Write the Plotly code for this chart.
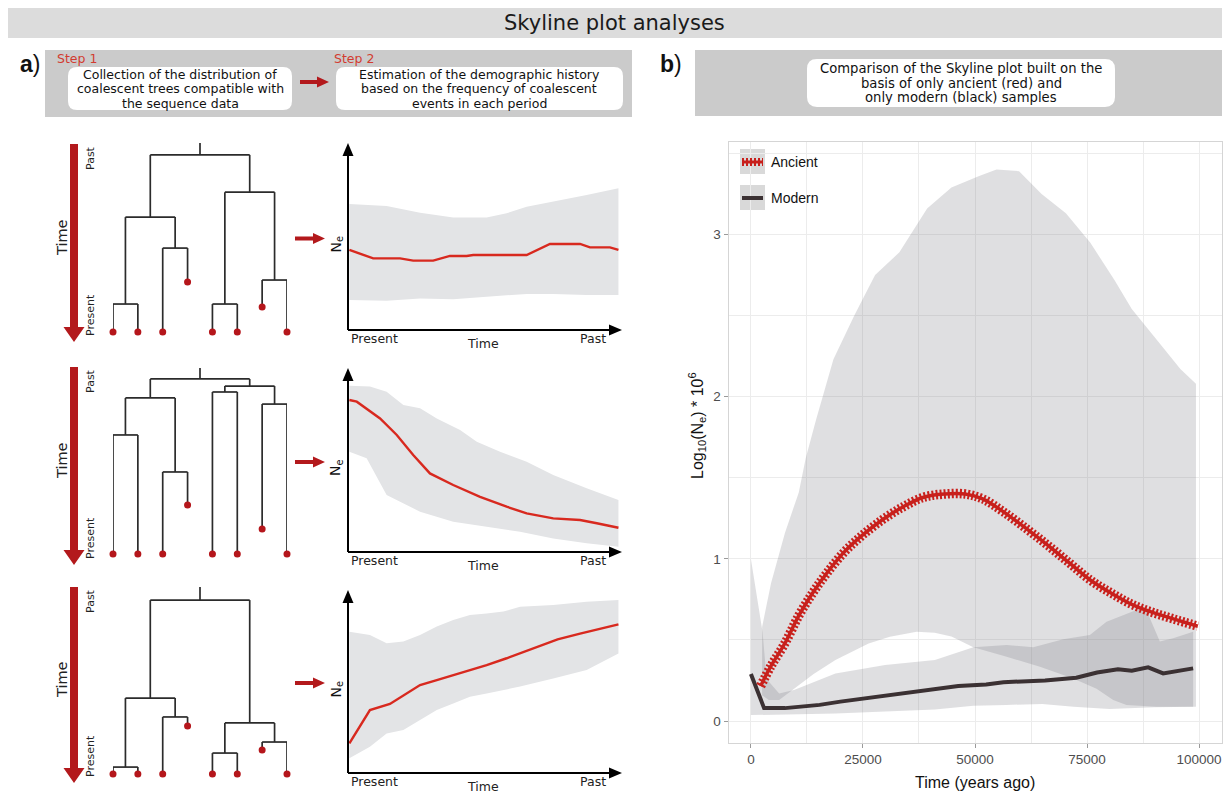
import plotly.graph_objects as go

W, H = 1227, 794

def fx(p):
    return p / W

def fy(p):
    return 1 - p / H

# ======================= DATA =======================
# ---- Panel b : skyline comparison ----
anc_x = [2170, 4490, 7590, 10680, 13780, 16870, 20740, 24610, 29260, 33900, 38540, 43190,
         47830, 51700, 56350, 61760, 66410, 71050, 75700, 80340, 84980, 89630, 94270, 99690]
anc_y = [0.216, 0.34, 0.48, 0.65, 0.79, 0.91, 1.04, 1.14, 1.24, 1.32, 1.38, 1.40,
         1.40, 1.37, 1.29, 1.18, 1.08, 0.975, 0.87, 0.79, 0.72, 0.67, 0.63, 0.585]

mod_x = [0, 2940, 7590, 15330, 19970, 25390, 30030, 35450, 40870, 46280, 52480, 56350,
         65630, 69500, 72600, 77240, 81890, 84980, 88630, 91980, 94950, 98670]
mod_y = [0.29, 0.08, 0.08, 0.10, 0.12, 0.14, 0.16, 0.18, 0.20, 0.216, 0.226, 0.24,
         0.25, 0.26, 0.267, 0.30, 0.32, 0.31, 0.331, 0.294, 0.309, 0.325]

anc_up_x = [2500, 4490, 7590, 10680, 12230, 14550, 18420, 23070, 27710, 33130, 39320, 44740,
            50930, 54800, 59830, 64860, 70280, 75700, 81110, 84980, 91180, 95820, 99300]
anc_up_y = [0.58, 0.85, 1.16, 1.41, 1.62, 1.86, 2.23, 2.50, 2.75, 2.89, 3.16, 3.29,
            3.36, 3.40, 3.39, 3.25, 3.13, 2.95, 2.72, 2.54, 2.33, 2.17, 2.08]
anc_lo_x = [2500, 4000, 6300, 9615, 14000, 18860, 26260, 31000, 36980, 41000, 44750, 49630,
            57060, 64490, 71920, 77120, 80840, 83800, 90490, 99300]
anc_lo_y = [0.16, 0.13, 0.13, 0.20, 0.29, 0.377, 0.479, 0.52, 0.551, 0.545, 0.521, 0.455,
            0.397, 0.335, 0.263, 0.20, 0.13, 0.099, 0.088, 0.088]

mod_up_x = [0, 1500, 2600, 3500, 6300, 9615, 18860, 29960, 41050, 49630, 57060, 63000,
            69690, 75630, 79350, 86030, 88000, 91240, 94210, 98670]
mod_up_y = [1.0, 0.75, 0.55, 0.26, 0.17, 0.191, 0.294, 0.346, 0.377, 0.455, 0.469, 0.455,
            0.504, 0.531, 0.613, 0.685, 0.70, 0.49, 0.51, 0.551]
mod_lo_x = [0, 18860, 41050, 49630, 57000, 65000, 72000, 80000, 90000, 98670]
mod_lo_y = [0.037, 0.047, 0.072, 0.095, 0.10, 0.105, 0.088, 0.074, 0.085, 0.088]

x_tick_vals = [0, 25000, 50000, 75000, 100000]
x_tick_text = ["0", "25000", "50000", "75000", "100000"]
y_tick_vals = [0, 1, 2, 3]
y_tick_text = ["0", "1", "2", "3"]

# ---- Panel a : mini skyline plots (arbitrary units 0-100) ----
mp1_band_x = [0.5, 14.1, 26.3, 38.4, 50.6, 57.9, 65.2, 74.9, 87.1, 98.7]
mp1_up = [67.4, 66.3, 62.7, 60.2, 60.2, 62.4, 65.9, 68.6, 72.2, 75.8]
mp1_lo = [16.0, 15.7, 16.9, 16.4, 17.8, 18.7, 19.3, 19.3, 18.7, 18.7]
mp1_x = [0.5, 9.2, 19.0, 23.8, 31.1, 37.2, 43.3, 45.7, 65.2, 73.7, 84.7, 88.3, 95.6, 98.7]
mp1_y = [42.8, 38.3, 38.3, 37.1, 37.1, 39.6, 39.6, 40.1, 40.1, 46.0, 46.0, 44.2, 44.2, 42.8]

mp2_up_x = [0.5, 8.0, 14.1, 20.2, 26.3, 32.4, 40.9, 47.0, 55.5, 65.2, 74.9, 87.1, 98.7]
mp2_up = [90.4, 89.9, 87.1, 79.9, 78.1, 72.6, 66.3, 59.9, 54.5, 49.1, 41.8, 34.6, 28.3]
mp2_lo_x = [0.5, 6.8, 14.1, 20.2, 26.3, 38.4, 50.6, 62.8, 74.9, 87.1, 98.7]
mp2_lo = [54.5, 50.9, 31.0, 26.4, 21.9, 16.5, 13.7, 11.0, 7.4, 4.7, 2.9]
mp2_x = [0.5, 3.2, 11.7, 17.8, 23.8, 29.9, 38.4, 48.2, 57.9, 65.2, 74.9, 84.7, 90.8, 98.7]
mp2_y = [82.6, 81.7, 72.6, 63.6, 52.7, 42.7, 36.4, 30.0, 24.6, 21.0, 18.3, 17.4, 15.6, 13.2]

mp3_up_x = [0.5, 8.0, 14.1, 20.2, 26.3, 32.4, 38.4, 44.5, 50.6, 56.7, 62.8, 74.9, 87.1, 98.7]
mp3_up = [77.2, 75.4, 70.9, 71.8, 75.4, 80.0, 83.6, 86.3, 87.2, 88.2, 90.9, 91.8, 93.6, 94.5]
mp3_lo_x = [0.5, 8.0, 14.1, 20.2, 26.3, 32.4, 38.4, 44.5, 50.6, 62.8, 74.9, 87.1, 98.7]
mp3_lo = [8.0, 14.4, 21.6, 23.5, 28.9, 34.4, 38.0, 41.7, 43.5, 47.2, 51.7, 56.3, 65.3]
mp3_x = [0.5, 8.0, 15.3, 26.3, 32.4, 40.9, 50.6, 57.9, 67.6, 76.5, 84.7, 98.7]
mp3_y = [16.2, 34.4, 37.7, 48.1, 50.8, 54.5, 59.0, 62.7, 68.1, 73.0, 76.2, 81.2]

# ---- Panel a : coalescent trees (time 0 = present, 100 = top of root stem) ----
tree1_tips = [0, 0, 0, 26.5, 0, 0, 13.2, 0]
tree1_merges = [(0, 1, 14.8), (2, 3, 44.4), (8, 9, 60.8), (4, 5, 14.8), (6, 7, 27.5), (11, 12, 74.0), (10, 13, 93.7)]
tree2_tips = [0, 0, 0, 26.3, 0, 0, 13.4, 0]
tree2_merges = [(0, 1, 64.0), (2, 3, 44.1), (8, 9, 83.9), (4, 5, 87.1), (6, 7, 80.6), (11, 12, 90.3), (10, 13, 94.1)]
tree3_tips = [0, 0, 0, 25.7, 0, 0, 12.8, 0]
tree3_merges = [(0, 1, 3.7), (2, 3, 30.5), (8, 9, 40.6), (4, 5, 11.2), (6, 7, 17.1), (11, 12, 27.3), (10, 13, 93.0)]
stem_top = 100

# ---- header texts ----
box1_lines = ["Collection of the distribution of", "coalescent trees compatible with", "the sequence data"]
box2_lines = ["Estimation of the demographic history", "based on the frequency of coalescent", "events in each period"]
box3_lines = ["Comparison of the Skyline plot built on the", "basis of only ancient (red) and", "only modern (black) samples"]

# ======================= STYLE =======================
DV = "DejaVu Sans"
LIB = "Liberation Sans"
RED_ARROW = "#b3191c"
RED_STEP = "#d23b30"
RED_DOT = "#b5161b"
RED_MINI = "#d8291f"
RED_B = "#c8201c"
DARK_B = "#3b3133"
RIBBON = "rgba(118,118,124,0.23)"
MINI_BAND = "#e3e4e6"

fig = go.Figure()
shapes = []
annotations = []


def ann(text, x, y, size, color="#111", family=DV, angle=0, xanchor="center", yanchor="middle", **kw):
    annotations.append(dict(text=text, x=fx(x), y=fy(y), xref="paper", yref="paper", showarrow=False,
                            font=dict(size=size, color=color, family=family), textangle=angle,
                            xanchor=xanchor, yanchor=yanchor, **kw))


def rect(x0, y0, x1, y1, color):
    shapes.append(dict(type="rect", xref="paper", yref="paper", x0=fx(x0), x1=fx(x1), y0=fy(y1), y1=fy(y0),
                       fillcolor=color, line=dict(width=0), layer="below"))


def poly(points, color, layer="above"):
    d = "M " + " L ".join(f"{fx(a):.5f},{fy(b):.5f}" for a, b in points) + " Z"
    shapes.append(dict(type="path", xref="paper", yref="paper", path=d, fillcolor=color,
                       line=dict(width=0), layer=layer))


def seg(x0, y0, x1, y1, color, width, dash=None):
    line = dict(color=color, width=width)
    if dash:
        line["dash"] = dash
    shapes.append(dict(type="line", xref="paper", yref="paper", x0=fx(x0), x1=fx(x1), y0=fy(y0), y1=fy(y1),
                       line=line))


def rrect(x0, y0, x1, y1, r, color):
    P = lambda a, b: f"{fx(a):.5f},{fy(b):.5f}"
    d = (f"M {P(x0 + r, y0)} L {P(x1 - r, y0)} Q {P(x1, y0)} {P(x1, y0 + r)} "
         f"L {P(x1, y1 - r)} Q {P(x1, y1)} {P(x1 - r, y1)} L {P(x0 + r, y1)} "
         f"Q {P(x0, y1)} {P(x0, y1 - r)} L {P(x0, y0 + r)} Q {P(x0, y0)} {P(x0 + r, y0)} Z")
    shapes.append(dict(type="path", xref="paper", yref="paper", path=d, fillcolor=color,
                       line=dict(width=0), layer="below"))


def harrow(x0, x1, y, shaft=4, head_w=10, head_len=11, color=RED_ARROW):
    hx = x1 - head_len
    poly([(x0, y - shaft / 2), (hx, y - shaft / 2), (hx, y - head_w / 2), (x1, y),
          (hx, y + head_w / 2), (hx, y + shaft / 2), (x0, y + shaft / 2)], color)


def varrow(x, y0, y1, shaft=8, head_w=21, head_len=15, color=RED_ARROW):
    hy = y1 - head_len
    poly([(x - shaft / 2, y0), (x + shaft / 2, y0), (x + shaft / 2, hy), (x + head_w / 2, hy),
          (x, y1), (x - head_w / 2, hy), (x - shaft / 2, hy)], color)


# ======================= HEADERS =======================
rect(8, 8, 1222, 38, "#dcdcdc")
ann("Skyline plot analyses", 614, 23, 21, "#1a1a1a")

ann("<b>a</b>)", 30, 64, 23, "#111", family=LIB)
ann("<b>b</b>)", 671, 64, 23, "#111", family=LIB)

rect(45, 50, 632, 117, "#cbcbcb")
rrect(68, 67, 292, 110, 9, "white")
rrect(336, 67, 623, 110, 9, "white")
ann("Step 1", 55, 59, 12.5, RED_STEP, xanchor="left")
ann("Step 2", 332, 59, 12.5, RED_STEP, xanchor="left")
for i, t in enumerate(box1_lines):
    ann(t, 180, 74.5 + 14.5 * i, 12.5, "#111")
for i, t in enumerate(box2_lines):
    ann(t, 479, 74.5 + 14.5 * i, 12.5, "#111")
harrow(300, 329, 82, shaft=4, head_w=11, head_len=12)

rect(695, 50, 1222, 116, "#cbcbcb")
rrect(807, 59, 1115, 107, 10, "white")
for i, t in enumerate(box3_lines):
    ann(t, 961, 68.5 + 14.5 * i, 13.2, "#111")

# ======================= PANEL A ROWS =======================
rows = [
    dict(tips=tree1_tips, merges=tree1_merges, present=332, top=143, arrow=(144, 342), tarrow=238.5,
         mp_base=330, mp_tip=143, band=(mp1_band_x, mp1_up, mp1_band_x, mp1_lo), line=(mp1_x, mp1_y)),
    dict(tips=tree2_tips, merges=tree2_merges, present=554, top=368, arrow=(367, 565), tarrow=462,
         mp_base=552, mp_tip=368, band=(mp2_up_x, mp2_up, mp2_lo_x, mp2_lo), line=(mp2_x, mp2_y)),
    dict(tips=tree3_tips, merges=tree3_merges, present=774, top=587, arrow=(587, 783), tarrow=683,
         mp_base=773, mp_tip=590, band=(mp3_up_x, mp3_up, mp3_lo_x, mp3_lo), line=(mp3_x, mp3_y)),
]

MP_X0, MP_X1 = 348, 622
layout_axes = {}
ax_n = 2
for r in rows:
    # ---- tree axis ----
    xa, ya = f"x{ax_n}", f"y{ax_n}"
    layout_axes[f"xaxis{ax_n}"] = dict(domain=[fx(113), fx(287)], range=[0, 7], visible=False,
                                       anchor=ya, fixedrange=True)
    layout_axes[f"yaxis{ax_n}"] = dict(domain=[fy(r["present"]), fy(r["top"])], range=[0, 100], visible=False,
                                       anchor=xa, fixedrange=True)
    node_x = list(range(len(r["tips"])))
    node_t = list(r["tips"])
    lx, ly = [], []
    for a, b, t in r["merges"]:
        for c in (a, b):
            lx += [node_x[c], node_x[c], None]
            ly += [node_t[c], t, None]
        lx += [node_x[a], node_x[b], None]
        ly += [t, t, None]
        node_x.append((node_x[a] + node_x[b]) / 2)
        node_t.append(t)
    lx += [node_x[-1], node_x[-1], None]
    ly += [node_t[-1], stem_top, None]
    fig.add_trace(go.Scatter(x=lx, y=ly, xaxis=xa, yaxis=ya, mode="lines",
                             line=dict(color="#2b2b2b", width=1.7), hoverinfo="skip", cliponaxis=False))
    fig.add_trace(go.Scatter(x=list(range(len(r["tips"]))), y=r["tips"], xaxis=xa, yaxis=ya, mode="markers",
                             marker=dict(color=RED_DOT, size=7), hoverinfo="skip", cliponaxis=False))
    ax_n += 1

    # ---- time arrow + labels ----
    y0, y1 = r["arrow"]
    varrow(74, y0, y1)
    mid = (y0 + y1) / 2
    ann("Time", 62, mid - 6, 14.5, "#222", angle=-90)
    ann("Past", 90, y0 + 14, 11, "#222", angle=-90)
    ann("Present", 90, y1 - 27, 11, "#222", angle=-90)

    # ---- red arrow tree -> plot ----
    harrow(295, 325, r["tarrow"], shaft=4, head_w=11, head_len=12)

    # ---- mini skyline plot ----
    xa, ya = f"x{ax_n}", f"y{ax_n}"
    base, tip = r["mp_base"], r["mp_tip"]
    layout_axes[f"xaxis{ax_n}"] = dict(domain=[fx(MP_X0), fx(MP_X1)], range=[0, 100], visible=False,
                                       anchor=ya, fixedrange=True)
    layout_axes[f"yaxis{ax_n}"] = dict(domain=[fy(base), fy(tip)], range=[0, 100],
                                       visible=False, anchor=xa, fixedrange=True)
    ux, uy, lox, loy = r["band"]
    fig.add_trace(go.Scatter(x=list(ux) + list(lox)[::-1], y=list(uy) + list(loy)[::-1], xaxis=xa, yaxis=ya,
                             mode="lines", fill="toself", fillcolor=MINI_BAND, line=dict(width=0),
                             hoverinfo="skip"))
    fig.add_trace(go.Scatter(x=r["line"][0], y=r["line"][1], xaxis=xa, yaxis=ya, mode="lines",
                             line=dict(color=RED_MINI, width=2.4), hoverinfo="skip"))
    # axis lines with arrowheads
    seg(MP_X0, base, MP_X1 - 10, base, "#000", 2)
    seg(MP_X0, base, MP_X0, tip + 10, "#000", 2)
    poly([(MP_X1 - 13, base - 5.5), (MP_X1, base), (MP_X1 - 13, base + 5.5)], "#000")
    poly([(MP_X0 - 5.5, tip + 13), (MP_X0, tip), (MP_X0 + 5.5, tip + 13)], "#000")

    ann("N<sub>e</sub>", 336, (base + tip) / 2 + 8, 14, "#111", angle=-90)
    ann("Present", 374, base + 8, 12.5, "#222")
    ann("Time", 483, base + 13, 12.5, "#222")
    ann("Past", 593, base + 8, 12.5, "#222")
    ax_n += 1

# ======================= PANEL B =======================
fig.add_trace(go.Scatter(x=anc_up_x + anc_lo_x[::-1], y=anc_up_y + anc_lo_y[::-1], mode="lines",
                         fill="toself", fillcolor=RIBBON, line=dict(width=0), hoverinfo="skip",
                         xaxis="x", yaxis="y"))
fig.add_trace(go.Scatter(x=mod_up_x + mod_lo_x[::-1], y=mod_up_y + mod_lo_y[::-1], mode="lines",
                         fill="toself", fillcolor=RIBBON, line=dict(width=0), hoverinfo="skip",
                         xaxis="x", yaxis="y"))
fig.add_trace(go.Scatter(x=mod_x, y=mod_y, mode="lines", line=dict(color=DARK_B, width=4),
                         name="Modern", xaxis="x", yaxis="y"))
fig.add_trace(go.Scatter(x=anc_x, y=anc_y, mode="lines", line=dict(color=RED_B, width=9.5, dash="2px,2px",
                         shape="spline"), name="Ancient", xaxis="x", yaxis="y", hoverinfo="skip"))
fig.add_trace(go.Scatter(x=anc_x, y=anc_y, mode="lines", line=dict(color=RED_B, width=3.5, shape="spline"),
                         name="Ancient", xaxis="x", yaxis="y"))

tickfont = dict(family=LIB, size=13.5, color="#4d4d4d")
layout_axes["xaxis"] = dict(domain=[fx(728.5), fx(1221.5)], range=[-5000, 105000], anchor="y",
                            tickvals=x_tick_vals, ticktext=x_tick_text, ticks="outside", ticklen=4,
                            tickcolor="#9a9a9a", tickfont=tickfont, showgrid=False, zeroline=False,
                            showline=True, mirror=True, linecolor="#d5d5d5", linewidth=1,
                            minor=dict(dtick=12500, tick0=0, showgrid=True, gridcolor="#ececec", gridwidth=1),
                            fixedrange=True)
layout_axes["yaxis"] = dict(domain=[fy(743), fy(142)], range=[-0.135, 3.57], anchor="x",
                            tickvals=y_tick_vals, ticktext=y_tick_text, ticks="outside", ticklen=4,
                            tickcolor="#9a9a9a", tickfont=tickfont, showgrid=False, zeroline=False,
                            showline=True, mirror=True, linecolor="#d5d5d5", linewidth=1,
                            minor=dict(dtick=0.5, tick0=0, showgrid=True, gridcolor="#ececec", gridwidth=1),
                            fixedrange=True)

ann("Time (years ago)", 975, 782, 16, "#111", family=LIB)
ann("Log<sub>10</sub>(N<sub>e</sub>) * 10<sup>6</sup>", 697, 426, 16, "#111", family=LIB, angle=-90)

# legend (ggplot-style keys)
rect(740, 149, 765, 174, "#d9d9d9")
rect(740, 185, 765, 210, "#d9d9d9")
seg(742, 162, 763, 162, RED_B, 8, dash="2px,2px")
seg(742, 162, 763, 162, RED_B, 3)
seg(742, 198, 763, 198, DARK_B, 4)
ann("Ancient", 769, 162, 14, "#111", family=LIB, xanchor="left")
ann("Modern", 769, 198, 14, "#111", family=LIB, xanchor="left")

fig.update_layout(width=W, height=H, margin=dict(l=0, r=0, t=0, b=0), paper_bgcolor="white",
                  plot_bgcolor="white", showlegend=False, shapes=shapes, annotations=annotations,
                  **layout_axes)

fig.write_html("out.html", config={"displayModeBar": False},
               post_script="document.body.style.margin='0px';")
